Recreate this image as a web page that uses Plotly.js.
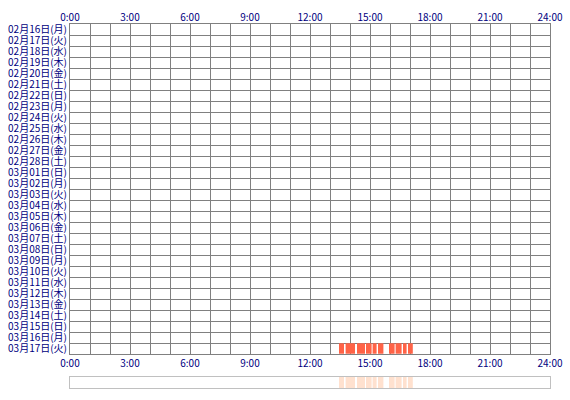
<!DOCTYPE html>
<html>
<head>
<meta charset="utf-8">
<script src="https://cdn.plot.ly/plotly-3.0.1.min.js"></script>
<style>
  body { margin: 0; background: #fff; }
  #chart { width: 570px; height: 400px; }
</style>
</head>
<body>
<div id="chart"></div>
<script>
// row labels, top to bottom
const dayLabels = [
  "02月16日(月)", "02月17日(火)", "02月18日(水)", "02月19日(木)", "02月20日(金)",
  "02月21日(土)", "02月22日(日)", "02月23日(月)", "02月24日(火)", "02月25日(水)",
  "02月26日(木)", "02月27日(金)", "02月28日(土)", "03月01日(日)", "03月02日(月)",
  "03月03日(火)", "03月04日(水)", "03月05日(木)", "03月06日(金)", "03月07日(土)",
  "03月08日(日)", "03月09日(月)", "03月10日(火)", "03月11日(水)", "03月12日(木)",
  "03月13日(金)", "03月14日(土)", "03月15日(日)", "03月16日(月)", "03月17日(火)"
];

const hourTicks = [0, 3, 6, 9, 12, 15, 18, 21, 24];
const hourLabels = ["0:00", "3:00", "6:00", "9:00", "12:00", "15:00", "18:00", "21:00", "24:00"];

// activity intervals (hours), all on 03月17日
const sessionDay = "03月17日(火)";
const sessionStart = [13.45, 13.78, 14.35, 14.80, 15.13, 15.40, 15.95, 16.28, 16.65, 16.90];
const sessionEnd   = [13.70, 14.25, 14.75, 15.08, 15.33, 15.67, 16.23, 16.58, 16.83, 17.14];

const rowOf = (label) => dayLabels.indexOf(label) + 0.5;
const durations = sessionStart.map((s, i) => sessionEnd[i] - s);

const txt = "#000080";
const gridCol = "#808080";
const font = { family: "'MS PGothic', 'Noto Sans CJK JP', sans-serif", size: 10, color: txt };

const traces = [
  {
    type: "bar",
    orientation: "h",
    base: sessionStart,
    x: durations,
    y: sessionStart.map(() => rowOf(sessionDay)),
    width: 0.95,
    marker: { color: "#ff6347", line: { width: 0 } },
    xaxis: "x",
    yaxis: "y",
    hoverinfo: "skip"
  },
  {
    type: "bar",
    orientation: "h",
    base: sessionStart,
    x: durations,
    y: sessionStart.map(() => 0.5),
    width: 1,
    marker: { color: "#ffe1cf", line: { width: 0 } },
    xaxis: "x3",
    yaxis: "y2",
    hoverinfo: "skip"
  },
  // invisible trace so the top axis gets drawn
  { type: "scatter", x: [0], y: [0.5], mode: "none", xaxis: "x2", yaxis: "y", hoverinfo: "skip" }
];

const layout = {
  width: 570,
  height: 400,
  margin: { l: 70, r: 20, t: 24, b: 12 },
  paper_bgcolor: "#fff",
  plot_bgcolor: "#fff",
  showlegend: false,
  font: font,
  barmode: "overlay",
  xaxis: {
    domain: [0, 1],
    range: [0, 24],
    anchor: "y",
    tickmode: "array",
    tickvals: hourTicks,
    ticktext: hourLabels,
    ticks: "",
    showgrid: true,
    gridcolor: gridCol,
    gridwidth: 1,
    minor: { dtick: 1, tick0: 0, showgrid: true, gridcolor: gridCol, gridwidth: 1 },
    showline: true,
    linecolor: gridCol,
    mirror: true,
    zeroline: false,
    tickfont: font,
    fixedrange: true
  },
  xaxis2: {
    overlaying: "x",
    matches: "x",
    side: "top",
    anchor: "y",
    tickmode: "array",
    tickvals: hourTicks,
    ticktext: hourLabels,
    ticks: "",
    showgrid: false,
    zeroline: false,
    tickfont: font
  },
  yaxis: {
    domain: [0.0934, 1],
    range: [dayLabels.length, 0],
    anchor: "x",
    tickmode: "array",
    tickvals: dayLabels.map((d, i) => i + 0.5),
    ticktext: dayLabels,
    ticks: "",
    showgrid: false,
    minor: { dtick: 1, tick0: 0, showgrid: true, gridcolor: gridCol, gridwidth: 1 },
    showline: true,
    linecolor: gridCol,
    mirror: true,
    zeroline: false,
    tickfont: font,
    fixedrange: true
  },
  xaxis3: {
    domain: [0, 1],
    range: [0, 24],
    anchor: "y2",
    showticklabels: false,
    ticks: "",
    showgrid: false,
    zeroline: false,
    showline: true,
    linecolor: "#c0c0c0",
    mirror: true
  },
  yaxis2: {
    domain: [0, 0.0302],
    range: [0, 1],
    anchor: "x3",
    showticklabels: false,
    ticks: "",
    showgrid: false,
    zeroline: false,
    showline: true,
    linecolor: "#c0c0c0",
    mirror: true
  }
};

Plotly.newPlot("chart", traces, layout, { displayModeBar: false, staticPlot: true });
</script>
</body>
</html>
